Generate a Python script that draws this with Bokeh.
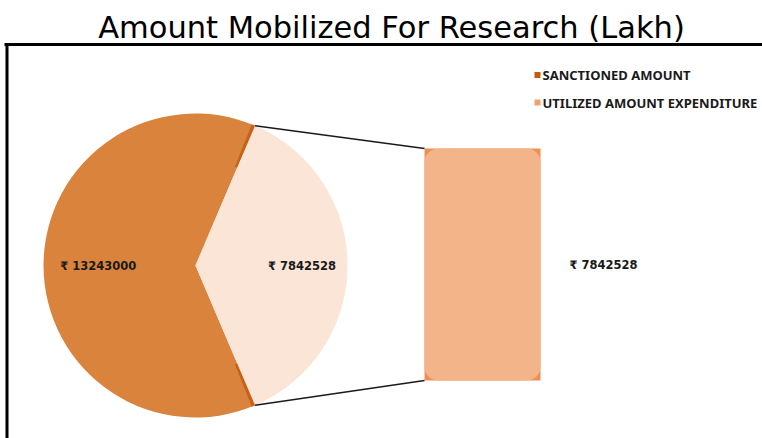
import math
from bokeh.plotting import figure
from bokeh.models import Range1d
from bokeh.core.properties import value
from bokeh.embed import file_html
from bokeh.resources import INLINE

# ---- data ----
title_text = "Amount Mobilized For Research (Lakh)"
categories = ["SANCTIONED AMOUNT", "UTILIZED AMOUNT EXPENDITURE"]
amounts = [13243000, 7842528]
second_plot = [7842528]
currency = "\u20b9"

# ---- styling / layout ----
W, H = 762, 438
col_main = "#d9833d"
col_dark = "#c55a11"
col_other = "#fbe5d6"
col_bar = "#f4b48a"
col_bar_edge = "#f08f55"
col_leg2 = "#f4a171"

p = figure(width=W, height=H, output_backend="svg", toolbar_location=None,
           x_range=Range1d(0, W), y_range=Range1d(H, 0),
           min_border=0, outline_line_color=None, background_fill_color="white",
           border_fill_color="white")
p.axis.visible = False
p.grid.visible = False

# chart frame (top + left border)
p.segment(x0=[4], y0=[44], x1=[W], y1=[44], line_color="black", line_width=3)
p.segment(x0=[6.5], y0=[44], x1=[6.5], y1=[H], line_color="black", line_width=3)

# title
p.text(x=[391], y=[27], text=[title_text], text_font=value("DejaVu Sans"),
       text_font_size="30.5px", text_align="center", text_baseline="alphabetic",
       text_color="#000000")

# ---- pie ----
cx, cy, r = 195, 265, 152
total = sum(amounts)
half = math.pi * amounts[1] / total  # half angle of "other" slice
p.wedge(x=[cx], y=[cy], radius=r, start_angle=half, end_angle=2 * math.pi - half,
        fill_color=col_main, line_color=None)
p.wedge(x=[cx], y=[cy], radius=r, start_angle=-half, end_angle=half,
        fill_color=col_other, line_color=None)
d = math.radians(1.3)
p.annular_wedge(x=[cx, cx], y=[cy, cy], inner_radius=r * 0.7, outer_radius=r,
                start_angle=[half, -half - d], end_angle=[half + d, -half],
                fill_color=col_dark, line_color=None, fill_alpha=0.85)

# ---- bar of second plot ----
bx0, bx1, btop, bbot = 424, 540, 148, 380
frac = second_plot[0] / amounts[1]
bmid = (btop + bbot) / 2
bh = (bbot - btop) * frac
p.quad(left=[bx0], right=[bx1], top=[bmid - bh / 2], bottom=[bmid + bh / 2],
       fill_color=col_bar_edge, line_color=None)
p.quad(left=[bx0], right=[bx1], top=[bmid - bh / 2], bottom=[bmid + bh / 2],
       fill_color=col_bar, line_color=None, border_radius=14)

# connector lines
ptx = cx + r * math.cos(half)
pty_top = cy - r * math.sin(half)
pty_bot = cy + r * math.sin(half)
p.segment(x0=[ptx, ptx], y0=[pty_top, pty_bot], x1=[bx0, bx0],
          y1=[bmid - bh / 2, bmid + bh / 2], line_color="#1a1a1a", line_width=1.5)

# data labels
lab_x = [cx - r * 0.64, cx + r * 0.7, bx1 + 63]
lab_y = [cy, cy, bmid]
lab_t = [f"{currency} {amounts[0]}", f"{currency} {amounts[1]}", f"{currency} {second_plot[0]}"]
p.text(x=lab_x, y=lab_y, text=lab_t, text_font=value("DejaVu Sans"), text_font_style="bold",
       text_font_size="11.5px", text_align="center", text_baseline="middle",
       text_color="#1a1a1a")

# legend
leg_x = 537
leg_y = [74.5, 102]
p.rect(x=[leg_x, leg_x], y=leg_y, width=6, height=6,
       fill_color=[col_dark, col_leg2], line_color=None)
p.text(x=[542, 542], y=leg_y, text=categories, text_font=value("Noto Sans"),
       text_font_style="bold", text_font_size="13px", text_align="left",
       text_baseline="middle", text_color="#1a1a1a")

open("out.html", "w").write(file_html(p, INLINE))
